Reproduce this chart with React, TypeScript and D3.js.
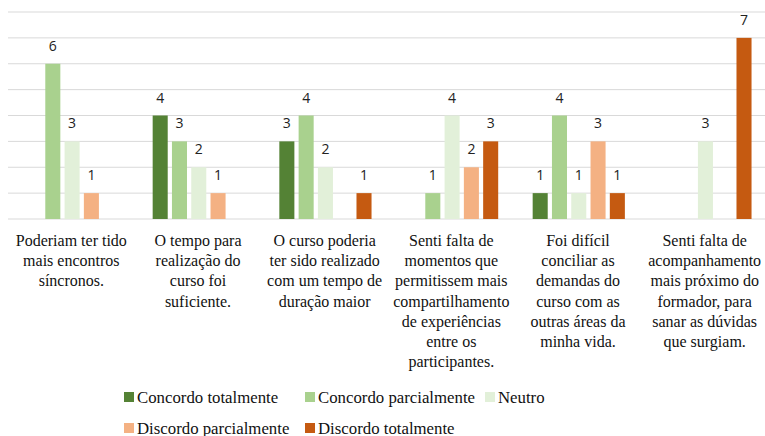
import React from 'react';
import * as d3 from 'd3';

const categories = [
  ['Poderiam ter tido', 'mais encontros', 'síncronos.'],
  ['O tempo para', 'realização do', 'curso foi', 'suficiente.'],
  ['O curso poderia', 'ter sido realizado', 'com um tempo de', 'duração maior'],
  ['Senti falta de', 'momentos que', 'permitissem mais', 'compartilhamento', 'de experiências', 'entre os', 'participantes.'],
  ['Foi difícil', 'conciliar as', 'demandas do', 'curso com as', 'outras áreas da', 'minha vida.'],
  ['Senti falta de', 'acompanhamento', 'mais próximo do', 'formador, para', 'sanar as dúvidas', 'que surgiam.'],
];

const seriesNames = [
  'Concordo totalmente',
  'Concordo parcialmente',
  'Neutro',
  'Discordo parcialmente',
  'Discordo totalmente',
];
const concordoTotal = [0, 4, 3, 0, 1, 0];
const concordoParcial = [6, 3, 4, 1, 4, 0];
const neutro = [3, 2, 2, 4, 1, 3];
const discordoParcial = [1, 1, 0, 2, 3, 0];
const discordoTotal = [0, 0, 1, 3, 1, 7];
const seriesValues = [concordoTotal, concordoParcial, neutro, discordoParcial, discordoTotal];
const colors = ['#548235', '#a9d18e', '#e2f0d9', '#f4b183', '#c55a11'];
const gridTicks = [0, 1, 2, 3, 4, 5, 6, 7, 8];

const W = 765;
const H = 436;
const SERIF = '"Liberation Serif", "Times New Roman", Times, serif';

const App = () => {
  const keys = categories.map((c, i) => String(i));
  const x0 = d3.scaleBand<string>().domain(keys).range([8, 768]).padding(0);
  const x1 = d3.scaleBand<string>()
    .domain(seriesNames)
    .range([18, 110.2])
    .paddingInner(0.22)
    .paddingOuter(0);
  const y = d3.scaleLinear().domain([0, 8]).range([219, 12]);

  const legendRows = [
    [{ i: 0, x: 124 }, { i: 1, x: 305 }, { i: 2, x: 485 }],
    [{ i: 3, x: 124 }, { i: 4, x: 305 }],
  ];
  const legendY = [397, 428];

  return (
    <svg width={W} height={H} style={{ position: 'absolute', left: 0, top: 0, background: '#fff' }}>
      <g>
        {gridTicks.map(t => (
          <line key={t} x1={8} x2={W} y1={y(t)} y2={y(t)} stroke="#d9d9d9" strokeWidth={1} />
        ))}
      </g>
      {keys.map((k, ci) => (
        <g key={k} transform={`translate(${x0(k)},0)`}>
          {seriesNames.map((s, si) => {
            const v = seriesValues[si][ci];
            if (!v) return null;
            const bx = x1(s)!;
            return (
              <g key={s}>
                <rect x={bx} y={y(v)} width={x1.bandwidth()} height={y(0) - y(v)} fill={colors[si]} />
                <text
                  x={bx + x1.bandwidth() / 2}
                  y={y(v) - 13}
                  textAnchor="middle"
                  style={{ fontFamily: '"Open Sans", sans-serif', fontSize: '14px' }}
                  fill="#222"
                >
                  {v}
                </text>
              </g>
            );
          })}
          <text
            x={x0.bandwidth() / 2}
            textAnchor="middle"
            style={{ fontFamily: SERIF, fontSize: '16px' }}
            fill="#111"
          >
            {categories[ci].map((line, li) => (
              <tspan key={li} x={x0.bandwidth() / 2} y={246 + li * 20.2}>{line}</tspan>
            ))}
          </text>
        </g>
      ))}
      <g style={{ fontFamily: SERIF, fontSize: '16.8px' }} fill="#111">
        {legendRows.map((row, ri) =>
          row.map(item => (
            <g key={item.i} transform={`translate(${item.x},${legendY[ri]})`}>
              <rect x={0} y={-5} width={10} height={10} fill={colors[item.i]} />
              <text x={13} y={5.5}>{seriesNames[item.i]}</text>
            </g>
          ))
        )}
      </g>
    </svg>
  );
};

export default App;
